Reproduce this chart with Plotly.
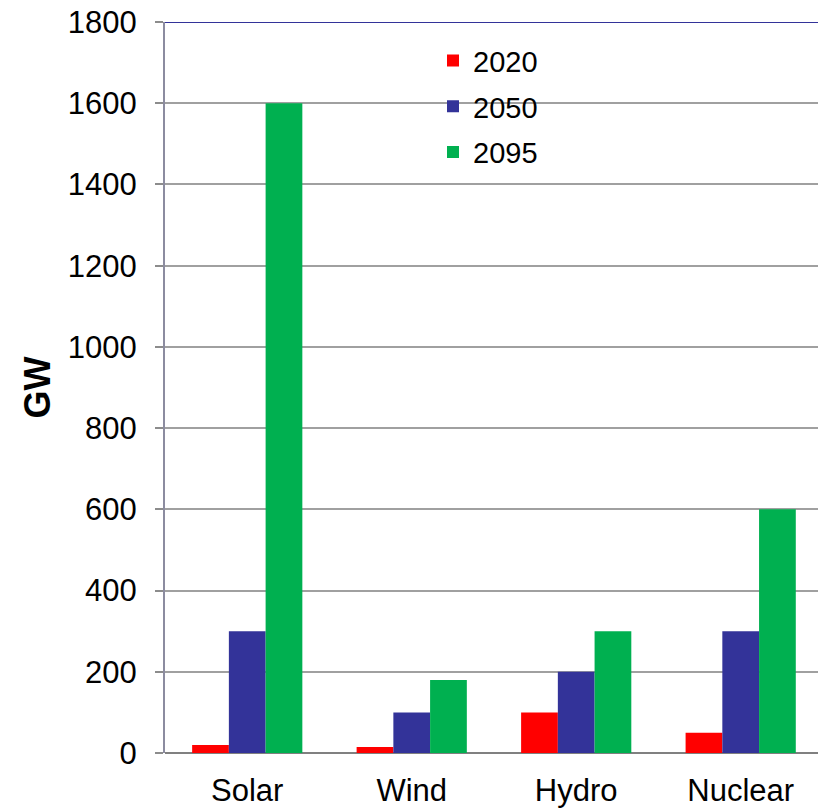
import plotly.graph_objects as go

categories = ["Solar", "Wind", "Hydro", "Nuclear"]
years = ["2020", "2050", "2095"]
values_2020 = [20, 15, 100, 50]
values_2050 = [300, 100, 200, 300]
values_2095 = [1600, 180, 300, 600]
y_ticks = [0, 200, 400, 600, 800, 1000, 1200, 1400, 1600, 1800]

series = [values_2020, values_2050, values_2095]
colors = ["#FF0000", "#333399", "#00B050"]

FONT = "Arial, Liberation Sans, sans-serif"

fig = go.Figure()
for name, vals, col in zip(years, series, colors):
    fig.add_trace(go.Bar(
        x=categories, y=vals, name=name,
        marker=dict(color=col, line=dict(width=0)),
        legendgroup=name,
    ))

fig.update_layout(
    width=818, height=808,
    margin=dict(l=165, r=0, t=22, b=55),
    paper_bgcolor="white", plot_bgcolor="white",
    barmode="group", bargap=0.33, bargroupgap=0,
    font=dict(family=FONT, size=31, color="black"),
    showlegend=True,
    legend=dict(
        x=(433 - 165) / 653, xanchor="left",
        y=0.982, yanchor="top",
        bgcolor="rgba(0,0,0,0)",
        font=dict(size=29),
        tracegroupgap=5,
        traceorder="grouped",
    ),
    xaxis=dict(
        range=[-0.5, 3.47],
        showgrid=False, showline=False, ticks="",
        tickfont=dict(size=31),
        ticklabelstandoff=16,
        zeroline=False,
    ),
    yaxis=dict(
        range=[0, 1800],
        tickvals=y_ticks,
        showgrid=True, gridcolor="#A0A0A0", gridwidth=2,
        showline=True, linecolor="#8C8CA0", linewidth=2,
        ticks="outside", ticklen=8, tickcolor="#8C8C8C", tickwidth=2,
        ticklabelstandoff=12,
        tickfont=dict(size=31),
        zeroline=True, zerolinecolor="#808080", zerolinewidth=2,
        title=dict(text="<b>GW</b>", font=dict(size=36), standoff=6),
    ),
)

# dark blue line across the top of the plot area
fig.add_shape(
    type="line", xref="paper", yref="y",
    x0=0, x1=1, y0=1800, y1=1800,
    line=dict(color="#333399", width=2),
)

fig.write_html("out.html")
